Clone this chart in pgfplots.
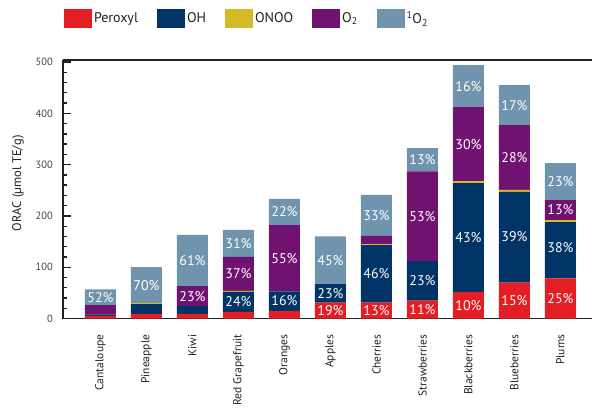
\documentclass[border=0pt]{standalone}
\usepackage{pgfplots}
\pgfplotsset{compat=1.18}
\usepackage{pgfplotstable}
\usepackage{fontspec}
\setmainfont{PT Sans}
\definecolor{cPer}{RGB}{227,30,36}
\definecolor{cOH}{RGB}{0,51,102}
\definecolor{cONOO}{RGB}{212,187,38}
\definecolor{cOtwo}{RGB}{112,18,112}
\definecolor{cSO}{RGB}{112,148,174}
\definecolor{txt}{RGB}{35,31,32}

\pgfplotstableread{
x per oh onoo otwo sing
0 5 3 0 18 31
1 9 19 2 0 70
2 9 15 0 39 100
3 13 39 2 66 53
4 15 38 0 129 51
5 31 36 0 0 93
6 31 112 2 16 80
7 35 77 0 175 45
8 52 212 4 144 82
9 70 177 4 126 78
10 78 110 4 39 72
}\data

\pgfplotstableread{
x y lab
0 41.5 52\%
1 65 70\%
2 43.5 23\%
2 113 61\%
3 32.5 24\%
3 87 37\%
3 146.5 31\%
4 34 16\%
4 117.5 55\%
4 207.5 22\%
5 15.5 19\%
5 49 23\%
5 113.5 45\%
6 15.5 13\%
6 87 46\%
6 201 33\%
7 17.5 11\%
7 73.5 23\%
7 199.5 53\%
7 309.5 13\%
8 26 10\%
8 158 43\%
8 340 30\%
8 453 16\%
9 35 15\%
9 159 39\%
9 314 28\%
9 416 17\%
10 39 25\%
10 138 38\%
10 211.5 13\%
10 267 23\%
}\labels

\begin{document}
\begin{tikzpicture}
\useasboundingbox (0,0) rectangle (592pt,410pt);
\pgfplotsset{common/.style={scale only axis, width=529pt, height=258.5pt,
  at={(63pt,91.5pt)}, anchor=south west,
  xmin=-0.815, xmax=10.685, ymin=0, ymax=504}}
\begin{axis}[common,
  ybar stacked, bar width=31pt,
  axis x line*=box, axis y line*=left,
  axis line style={line width=1.3pt, txt, -},
  xtick={0,...,10},
  xticklabels={Cantaloupe,Pineapple,Kiwi,Red Grapefruit,Oranges,Apples,Cherries,Strawberries,Blackberries,Blueberries,Plums},
  xtick style={draw=none},
  xticklabel style={rotate=90, anchor=east, inner sep=0pt, font=\fontsize{11.5}{13}\selectfont, text=txt},
  xticklabel shift=16pt,
  ytick={0,100,...,500}, minor y tick num=4,
  ytick align=inside, ytick pos=left,
  major tick length=8pt, minor tick length=4.5pt,
  ytick style={line width=1.3pt, txt},
  yticklabel style={font=\fontsize{10.5}{12}\selectfont, text=txt!85, inner sep=0pt, xshift=-10pt},
  /pgf/number format/assume math mode=true,
  every axis y label/.style={at={(axis description cs:0,0.5)}, xshift=-45pt, yshift=6pt, rotate=90, anchor=center, font=\fontsize{12.5}{15}\selectfont, text=txt},
  ylabel={ORAC (µmol TE/g)},
  legend columns=-1,
  legend image code/.code={\fill[#1] (0pt,-9.5pt) rectangle (28pt,9.5pt);},
  legend style={at={(axis description cs:0.0019,1.1605)}, anchor=west, draw=none, fill=none,
    inner sep=0pt, outer sep=0pt, font=\fontsize{14}{16}\selectfont, text=txt,
    column sep=0pt, /tikz/every even column/.append style={column sep=17pt}},
]
\addplot[fill=cPer, draw=none] table[x=x,y=per]{\data};
\addplot[fill=cOH, draw=none] table[x=x,y=oh]{\data};
\addplot[fill=cONOO, draw=none] table[x=x,y=onoo]{\data};
\addplot[fill=cOtwo, draw=none] table[x=x,y=otwo]{\data};
\addplot[fill=cSO, draw=none] table[x=x,y=sing]{\data};
\legend{Peroxyl, OH, ONOO, O\textsubscript{2}, \textsuperscript{1}O\textsubscript{2}}
\end{axis}
\begin{axis}[common, hide axis]
\addplot[draw=none, nodes near coords, point meta=explicit symbolic,
  nodes near coords style={anchor=center, text=white, inner sep=0pt, font=\fontsize{14}{16}\selectfont}]
  table[x=x,y=y,meta=lab]{\labels};
\end{axis}
\end{tikzpicture}
\end{document}
